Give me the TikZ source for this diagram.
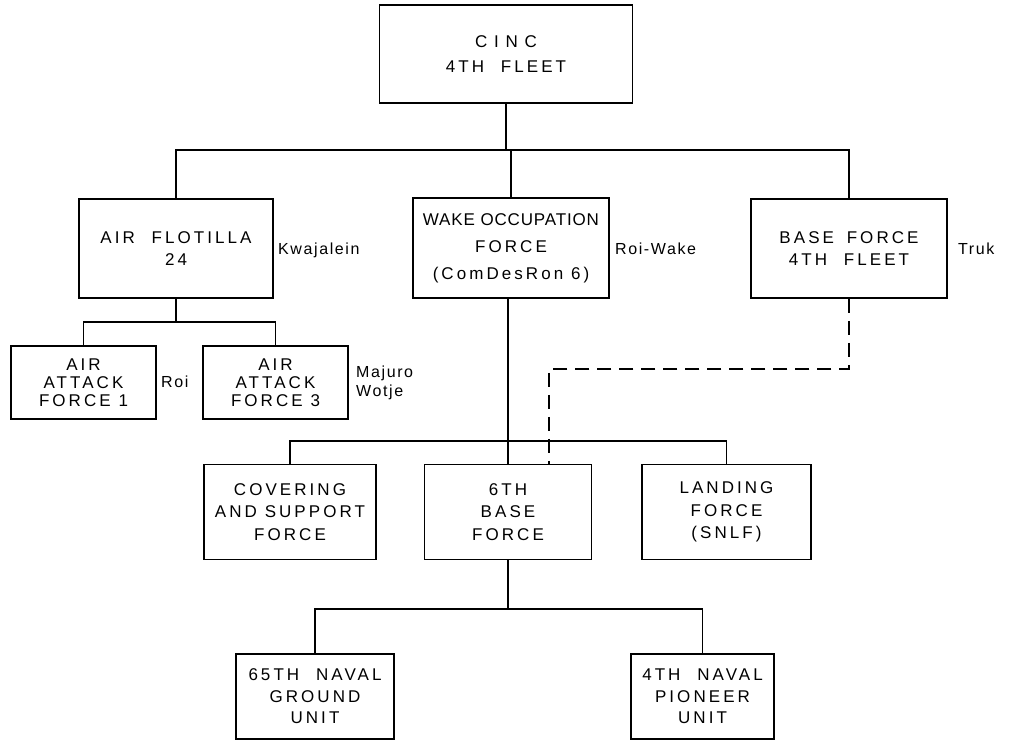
\documentclass[tikz,border=0pt]{standalone}
\usepackage{fontspec}
\setmainfont{Liberation Sans}
\newfontfamily\lett[LetterSpace=18]{Liberation Sans}
\newfontfamily\lettwide[LetterSpace=40]{Liberation Sans}
\newfontfamily\lettw[LetterSpace=5]{Liberation Sans}
\newfontfamily\lettn[LetterSpace=10]{Liberation Sans}
\newcommand{\gap}{\hspace*{9pt}}
\begin{document}
\begin{tikzpicture}[x=1pt,y=-1pt,
  box/.style={draw, line width=1.5pt, align=center, inner sep=0pt,
    font=\lett\fontsize{17}{#1}\selectfont},
  box/.default=25,
  lab/.style={anchor=west, inner sep=0pt, align=left,
    font=\lettn\fontsize{16}{19}\selectfont},
  conn/.style={line width=1.5pt},
  dconn/.style={line width=1.5pt, dash pattern=on 14pt off 8pt}]
\useasboundingbox (0,0) rectangle (1010,740);
\fill[white] (0,0) rectangle (1010,740);

% boxes
\node[box=25, minimum width=253pt, minimum height=98pt] (cinc) at (506,54) {{\lettwide CINC}\\4TH \gap FLEET};
\node[box=22, minimum width=194pt, minimum height=99pt] (af24) at (176,248.5) {AIR \gap FLOTILLA\\24};
\node[box=27, minimum width=196pt, minimum height=100pt] (wake) at (511,248) {{\lettw WAKE OCCUPATION}\\FORCE\\(ComDesRon 6)};
\node[box=22, minimum width=196pt, minimum height=99pt] (base4) at (849,248.5) {BASE \hspace*{5pt}FORCE\\4TH \gap FLEET};
\node[box=18, minimum width=145pt, minimum height=73pt] (aaf1) at (83.5,382.5) {AIR\\ATTACK\\FORCE 1};
\node[box=18, minimum width=145pt, minimum height=73pt] (aaf3) at (275.5,382.5) {AIR\\ATTACK\\FORCE 3};
\node[box=22.5, minimum width=172pt, minimum height=95pt] (cov) at (290,512) {COVERING\\AND SUPPORT\\FORCE};
\node[box=22.5, minimum width=167pt, minimum height=95pt] (base6) at (508,512) {6TH\\BASE\\FORCE};
\node[box=22.5, minimum width=169pt, minimum height=95pt] (land) at (726.5,512) {LANDING\\FORCE\\(SNLF)};
\node[box=21.5, minimum width=158pt, minimum height=85pt] (ng65) at (315,696.5) {65TH \gap NAVAL\\GROUND\\UNIT};
\node[box=21.5, minimum width=143pt, minimum height=85pt] (np4) at (702.5,696.5) {4TH \gap NAVAL\\PIONEER\\UNIT};

% labels
\node[lab] (kw) at (278,250) {Kwajalein};
\node[lab] (rw) at (615,249) {Roi-Wake};
\node[lab] (tr) at (958,249) {Truk};
\node[lab] (roi) at (161,382) {Roi};
\node[lab] (mw) at (356,383) {Majuro\\Wotje};

% connectors
\coordinate (b1) at (506,150);
\draw[conn] (cinc.south) -- (b1);
\draw[conn] (af24.north) |- (b1) -| (base4.north);
\draw[conn] (wake.north) -- (wake.north |- b1);

\coordinate (b2) at (176,322);
\draw[conn] (af24.south) -- (b2);
\draw[conn] (aaf1.north) |- (b2) -| (aaf3.north);

\coordinate (b3) at (508,441);
\draw[conn] (wake.south -| b3) -- (base6.north);
\draw[conn] (cov.north) |- (b3) -| (land.north);

\coordinate (d1) at (549,369);
\draw[dconn] (base4.south) |- (d1) -- (d1 |- base6.north);

\coordinate (b4) at (508,609);
\draw[conn] (base6.south) -- (b4);
\draw[conn] (ng65.north) |- (b4) -| (np4.north);
\end{tikzpicture}
\end{document}
